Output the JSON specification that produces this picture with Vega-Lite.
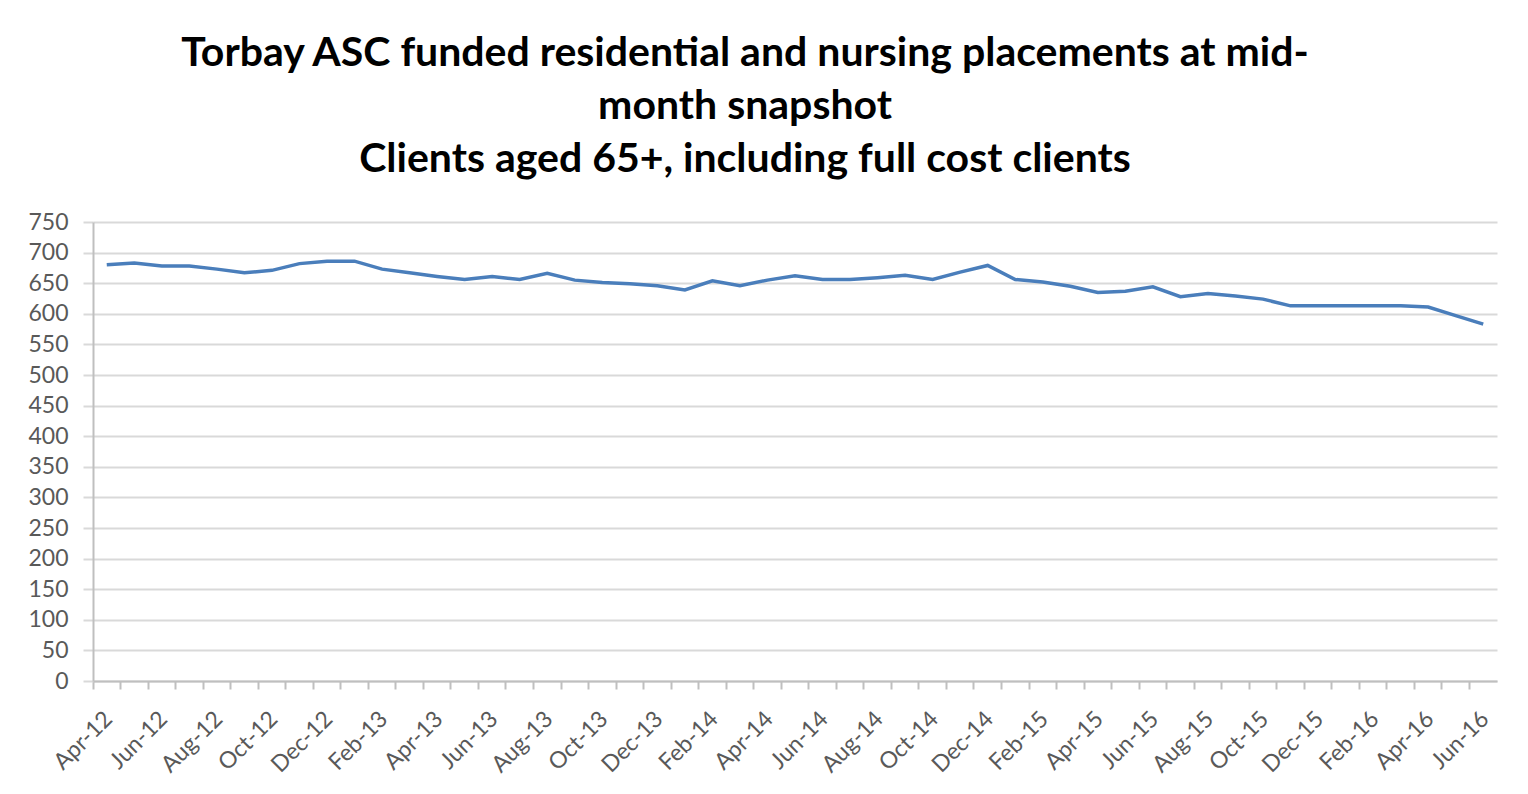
{
  "$schema": "https://vega.github.io/schema/vega-lite/v6.json",
  "autosize": {"type": "none"},
  "width": 1404,
  "height": 459,
  "padding": {"left": 93, "top": 222, "right": 31, "bottom": 113},
  "background": "white",
  "title": {
    "text": ["Torbay ASC funded residential and nursing placements at mid-", "month snapshot", "Clients aged 65+, including full cost clients"],
    "font": "Lato",
    "fontSize": 41,
    "fontWeight": "bold",
    "color": "#000000",
    "lineHeight": 53,
    "anchor": "middle",
    "frame": "group",
    "dx": -50,
    "offset": 30
  },
  "data": {
    "values": [
      {"month": "Apr-12", "clients": 680},
      {"month": "May-12", "clients": 683},
      {"month": "Jun-12", "clients": 678},
      {"month": "Jul-12", "clients": 678},
      {"month": "Aug-12", "clients": 673},
      {"month": "Sep-12", "clients": 667},
      {"month": "Oct-12", "clients": 671},
      {"month": "Nov-12", "clients": 682},
      {"month": "Dec-12", "clients": 686},
      {"month": "Jan-13", "clients": 686},
      {"month": "Feb-13", "clients": 673},
      {"month": "Mar-13", "clients": 667},
      {"month": "Apr-13", "clients": 661},
      {"month": "May-13", "clients": 656},
      {"month": "Jun-13", "clients": 661},
      {"month": "Jul-13", "clients": 656},
      {"month": "Aug-13", "clients": 666},
      {"month": "Sep-13", "clients": 655},
      {"month": "Oct-13", "clients": 651},
      {"month": "Nov-13", "clients": 649},
      {"month": "Dec-13", "clients": 646},
      {"month": "Jan-14", "clients": 639},
      {"month": "Feb-14", "clients": 654},
      {"month": "Mar-14", "clients": 646},
      {"month": "Apr-14", "clients": 655},
      {"month": "May-14", "clients": 662},
      {"month": "Jun-14", "clients": 656},
      {"month": "Jul-14", "clients": 656},
      {"month": "Aug-14", "clients": 659},
      {"month": "Sep-14", "clients": 663},
      {"month": "Oct-14", "clients": 656},
      {"month": "Nov-14", "clients": 668},
      {"month": "Dec-14", "clients": 679},
      {"month": "Jan-15", "clients": 656},
      {"month": "Feb-15", "clients": 652},
      {"month": "Mar-15", "clients": 645},
      {"month": "Apr-15", "clients": 635},
      {"month": "May-15", "clients": 637},
      {"month": "Jun-15", "clients": 644},
      {"month": "Jul-15", "clients": 628},
      {"month": "Aug-15", "clients": 633},
      {"month": "Sep-15", "clients": 629},
      {"month": "Oct-15", "clients": 624},
      {"month": "Nov-15", "clients": 613},
      {"month": "Dec-15", "clients": 613},
      {"month": "Jan-16", "clients": 613},
      {"month": "Feb-16", "clients": 613},
      {"month": "Mar-16", "clients": 613},
      {"month": "Apr-16", "clients": 611},
      {"month": "May-16", "clients": 597},
      {"month": "Jun-16", "clients": 583}
    ]
  },
  "mark": {"type": "line", "color": "#4A7EBB", "strokeWidth": 3.5},
  "encoding": {
    "x": {
      "field": "month",
      "type": "ordinal",
      "sort": null,
      "scale": {"type": "band", "paddingInner": 0, "paddingOuter": 0},
      "axis": {
        "title": null,
        "bandPosition": 0,
        "labelOffset": 2,
        "grid": false,
        "labelAngle": -45,
        "labelAlign": "right",
        "labelBaseline": "middle",
        "labelOverlap": false,
        "labelExpr": "indexof(['Apr','Jun','Aug','Oct','Dec','Feb'], slice(datum.value, 0, 3)) >= 0 ? datum.value : ''",
        "labelFont": "Lato",
        "labelFontSize": 23,
        "labelColor": "#595959",
        "labelPadding": 26,
        "tickSize": 8,
        "tickColor": "#bfbfbf",
        "tickWidth": 2,
        "domainColor": "#bfbfbf",
        "domainWidth": 2
      }
    },
    "y": {
      "field": "clients",
      "type": "quantitative",
      "scale": {"domain": [0, 750], "nice": false},
      "axis": {
        "title": null,
        "values": [0, 50, 100, 150, 200, 250, 300, 350, 400, 450, 500, 550, 600, 650, 700, 750],
        "grid": true,
        "gridColor": "#d9d9d9",
        "gridWidth": 2,
        "tickSize": 10,
        "tickColor": "#d9d9d9",
        "tickWidth": 2,
        "domainColor": "#bfbfbf",
        "domainWidth": 2,
        "labelFont": "Lato",
        "labelFontSize": 23,
        "labelColor": "#595959",
        "labelPadding": 15
      }
    }
  },
  "config": {"view": {"stroke": null}}
}
